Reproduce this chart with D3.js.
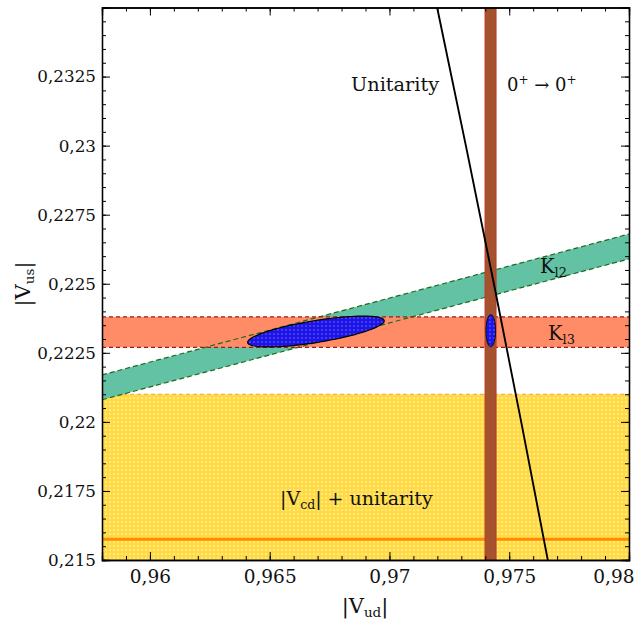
<!DOCTYPE html>
<html><head><meta charset="utf-8">
<script src="https://cdn.jsdelivr.net/npm/d3@7"></script>
<style>body{margin:0;background:#fff} svg text{font-family:"DejaVu Serif",serif;fill:#111}</style>
</head><body><svg id="c" width="635" height="623"></svg>
<script>
// ---------- data ----------
const xDomain = [0.958, 0.98];
const yDomain = [0.215, 0.235];
const xTicks = [0.96, 0.965, 0.97, 0.975, 0.98];
const yTicks = [0.215, 0.2175, 0.22, 0.2225, 0.225, 0.2275, 0.23, 0.2325];
const vcdBand = [0.215, 0.221];          // |Vcd| + unitarity (yellow)
const vcdLine = 0.21575;                 // orange line
const kl3Band = [0.2227, 0.2238];        // K_l3 (salmon)
const kl2Upper = [[0.958, 0.2217], [0.98, 0.2268]];
const kl2Lower = [[0.958, 0.2208], [0.98, 0.2259]];
const superBand = [0.97399, 0.97445];    // 0+ -> 0+ (brown)
const unitarityCurve = [[0.97199, 0.235], [0.97319, 0.23], [0.97436, 0.225], [0.97550, 0.22], [0.97661, 0.215]];
const fitEllipse = {center: [0.96693, 0.22327], major: [0.96978, 0.22367], minor: [0.96701, 0.22288]};
const smallEllipse = {center: [0.97423, 0.2233], major: [0.97423, 0.22388], minor: [0.97443, 0.2233]};

// ---------- layout ----------
const L = 102, R = 629, T = 7.5, B = 560;
const x = d3.scaleLinear().domain(xDomain).range([L, R]);
const y = d3.scaleLinear().domain(yDomain).range([B, T]);
const svg = d3.select("#c");
const defs = svg.append("defs");
defs.append("clipPath").attr("id", "clip").append("rect")
  .attr("x", L).attr("y", T).attr("width", R - L).attr("height", B - T);

const py = defs.append("pattern").attr("id", "yel").attr("patternUnits", "userSpaceOnUse")
  .attr("width", 4).attr("height", 4);
py.append("rect").attr("width", 4).attr("height", 4).attr("fill", "#FFDA40");
py.append("circle").attr("cx", 2).attr("cy", 2).attr("r", 0.85).attr("fill", "#fff6d0");

const pb = defs.append("pattern").attr("id", "blu").attr("patternUnits", "userSpaceOnUse")
  .attr("width", 4).attr("height", 4);
pb.append("rect").attr("width", 4).attr("height", 4).attr("fill", "#1616F2");
pb.append("circle").attr("cx", 2).attr("cy", 2).attr("r", 0.75).attr("fill", "#c0709a");

const g = svg.append("g").attr("clip-path", "url(#clip)");

// yellow band
g.append("rect").attr("x", L).attr("width", R - L)
  .attr("y", y(vcdBand[1])).attr("height", y(vcdBand[0]) - y(vcdBand[1]))
  .attr("fill", "url(#yel)");
g.append("line").attr("x1", L).attr("x2", R).attr("y1", y(vcdBand[1])).attr("y2", y(vcdBand[1]))
  .attr("stroke", "#F2A33A").attr("stroke-width", 1.2).attr("stroke-dasharray", "4,3");
g.append("line").attr("x1", L).attr("x2", R).attr("y1", y(vcdLine)).attr("y2", y(vcdLine))
  .attr("stroke", "#FF8C00").attr("stroke-width", 3);

// green K_l2 band
const area = kl2Upper.map(d => [x(d[0]), y(d[1])]).concat(kl2Lower.slice().reverse().map(d => [x(d[0]), y(d[1])]));
g.append("polygon").attr("points", area.map(p => p.join(",")).join(" ")).attr("fill", "#63C2A3");

// salmon K_l3 band
g.append("rect").attr("x", L).attr("width", R - L)
  .attr("y", y(kl3Band[1])).attr("height", y(kl3Band[0]) - y(kl3Band[1]))
  .attr("fill", "#FF8C66");

const line = d3.line().x(d => x(d[0])).y(d => y(d[1]));
[kl2Upper, kl2Lower].forEach(l => g.append("path").attr("d", line(l)).attr("fill", "none")
  .attr("stroke", "#1E6B1E").attr("stroke-width", 1.2).attr("stroke-dasharray", "5,3"));
kl3Band.forEach(v => g.append("line").attr("x1", L).attr("x2", R).attr("y1", y(v)).attr("y2", y(v))
  .attr("stroke", "#9B1C1C").attr("stroke-width", 1.2).attr("stroke-dasharray", "4,3"));

// big ellipse
function ellipsePath(e) {
  const c = e.center, a = [e.major[0] - c[0], e.major[1] - c[1]], b = [e.minor[0] - c[0], e.minor[1] - c[1]];
  const pts = d3.range(0, 121).map(i => {
    const t = i / 120 * 2 * Math.PI;
    return [c[0] + Math.cos(t) * a[0] + Math.sin(t) * b[0], c[1] + Math.cos(t) * a[1] + Math.sin(t) * b[1]];
  });
  return line(pts) + "Z";
}
g.append("path").attr("d", ellipsePath(fitEllipse)).attr("fill", "url(#blu)")
  .attr("stroke", "#000").attr("stroke-width", 1.2);

// brown band
g.append("rect").attr("x", x(superBand[0])).attr("width", x(superBand[1]) - x(superBand[0]))
  .attr("y", T).attr("height", B - T).attr("fill", "#A5532E");
superBand.forEach(v => g.append("line").attr("x1", x(v)).attr("x2", x(v)).attr("y1", T).attr("y2", B)
  .attr("stroke", "#C0392B").attr("stroke-width", 1));

// unitarity line
g.append("path").attr("d", d3.line().curve(d3.curveMonotoneY).x(d => x(d[0])).y(d => y(d[1]))(unitarityCurve))
  .attr("fill", "none").attr("stroke", "#000").attr("stroke-width", 1.9);

// small ellipse
g.append("path").attr("d", ellipsePath(smallEllipse)).attr("fill", "url(#blu)")
  .attr("stroke", "#000").attr("stroke-width", 1);

// ---------- labels ----------
svg.append("text").attr("x", 351).attr("y", 91).attr("font-size", 19.3).text("Unitarity");
const t0 = svg.append("text").attr("x", 507).attr("y", 91).attr("font-size", 18);
t0.append("tspan").text("0");
t0.append("tspan").attr("dy", -7).attr("font-size", 12).text("+");
t0.append("tspan").attr("dy", 7).text(" \u2192 0");
t0.append("tspan").attr("dy", -7).attr("font-size", 12).text("+");

function subLabel(xp, yp, main, sub, size, pre, post) {
  const t = svg.append("text").attr("x", xp).attr("y", yp).attr("font-size", size);
  t.append("tspan").text((pre || "") + main);
  t.append("tspan").attr("dy", 4).attr("font-size", size * 0.66).text(sub);
  if (post) t.append("tspan").attr("dy", -4).text(post);
  return t;
}
subLabel(540, 273, "K", "l2", 19.5);
subLabel(548, 340, "K", "l3", 19.5);
subLabel(280, 505, "V", "cd", 19, "|", "| + unitarity");

// ---------- axes ----------
const fmt = d3.formatLocale({decimal: ",", thousands: ".", grouping: [3], currency: ["", ""]}).format(".4~f");
const xMinor = d3.range(0, 23).map(i => 0.958 + i * 0.001);
const yMinor = d3.range(0, 41).map(i => 0.215 + i * 0.0005);

function styleAxis(sel) {
  sel.select(".domain").attr("stroke", "#000").attr("stroke-width", 1.3);
  sel.selectAll(".tick line").attr("stroke", "#000").attr("stroke-width", 1);
  sel.selectAll("text").attr("font-family", "DejaVu Serif").attr("fill", "#111");
}
const ax = svg.append("g");
ax.append("g").attr("transform", `translate(0,${B})`).call(d3.axisBottom(x).tickValues(xMinor).tickSize(-4).tickFormat("")).call(styleAxis);
const xg = ax.append("g").attr("transform", `translate(0,${B})`).call(d3.axisBottom(x).tickValues(xTicks).tickSize(-8).tickPadding(10).tickFormat(fmt))
  .call(styleAxis);
xg.selectAll("text").attr("font-size", 18.5);
// keep the last label inside the picture
xg.selectAll(".tick").filter(d => d === xTicks[xTicks.length - 1]).select("text")
  .attr("text-anchor", "end").attr("x", 634 - R);
ax.append("g").attr("transform", `translate(0,${T})`).call(d3.axisTop(x).tickValues(xMinor).tickSize(-4).tickFormat("")).call(styleAxis);
ax.append("g").attr("transform", `translate(0,${T})`).call(d3.axisTop(x).tickValues(xTicks).tickSize(-8).tickFormat("")).call(styleAxis);
ax.append("g").attr("transform", `translate(${L},0)`).call(d3.axisLeft(y).tickValues(yMinor).tickSize(-4).tickFormat("")).call(styleAxis);
ax.append("g").attr("transform", `translate(${L},0)`).call(d3.axisLeft(y).tickValues(yTicks).tickSize(-8).tickPadding(6).tickFormat(fmt))
  .call(styleAxis).selectAll("text").attr("font-size", 16.8);
ax.append("g").attr("transform", `translate(${R},0)`).call(d3.axisRight(y).tickValues(yMinor).tickSize(-4).tickFormat("")).call(styleAxis);
ax.append("g").attr("transform", `translate(${R},0)`).call(d3.axisRight(y).tickValues(yTicks).tickSize(-8).tickFormat("")).call(styleAxis);

// axis titles
const xt = svg.append("text").attr("x", 365).attr("y", 613).attr("text-anchor", "middle").attr("font-size", 21);
xt.append("tspan").text("|V");
xt.append("tspan").attr("dy", 4).attr("font-size", 13.5).text("ud");
xt.append("tspan").attr("dy", -4).text("|");
const yt = svg.append("text").attr("transform", "translate(30,284) rotate(-90)").attr("text-anchor", "middle").attr("font-size", 21);
yt.append("tspan").text("|V");
yt.append("tspan").attr("dy", 4).attr("font-size", 13.5).text("us");
yt.append("tspan").attr("dy", -4).text("|");
</script></body></html>
